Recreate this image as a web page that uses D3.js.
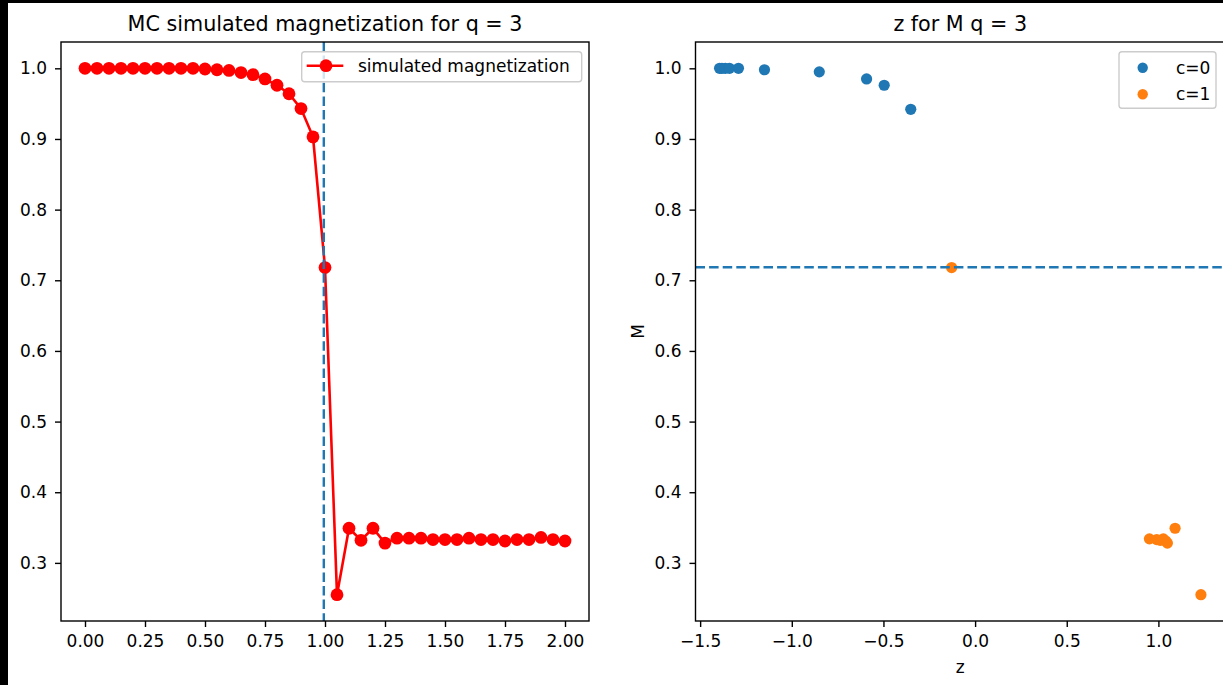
<!DOCTYPE html>
<html>
<head>
<meta charset="utf-8">
<script src="https://cdn.jsdelivr.net/npm/d3@7"></script>
<style>
  html, body { margin: 0; padding: 0; background: #fff; }
  svg { display: block; font-family: "DejaVu Sans", sans-serif; }
</style>
</head>
<body>
<svg id="chart" width="1223" height="685"></svg>
<script>
// ---------- data ----------
const temperatures = d3.range(41).map(i => +(i * 0.05).toFixed(2));
const magnetization = [
  1.000, 1.000, 1.000, 1.000, 1.000, 1.000, 1.000, 1.000, 1.000, 1.000,
  0.999, 0.998, 0.997, 0.994, 0.991, 0.985, 0.976, 0.964, 0.943, 0.903,
  0.718, 0.255, 0.349, 0.332, 0.349, 0.328, 0.335, 0.335, 0.335, 0.333,
  0.333, 0.333, 0.335, 0.333, 0.333, 0.331, 0.333, 0.333, 0.336, 0.333,
  0.331
];
const criticalT = 0.995;
const criticalM = 0.7185;

const c0_z = [-1.394, -1.381, -1.363, -1.340, -1.291, -1.149, -0.850, -0.592, -0.496, -0.351];
const c0_M = [1.000, 1.000, 1.000, 1.000, 1.000, 0.998, 0.995, 0.985, 0.976, 0.942];
const c1_z = [-0.128, 0.951, 0.991, 1.010, 1.027, 1.040, 1.049, 1.091, 1.232];
const c1_M = [0.718, 0.334, 0.333, 0.332, 0.334, 0.331, 0.328, 0.349, 0.255];

const leftXTicks = [0.00, 0.25, 0.50, 0.75, 1.00, 1.25, 1.50, 1.75, 2.00];
const rightXTicks = [-1.5, -1.0, -0.5, 0.0, 0.5, 1.0];
const yTicks = [0.3, 0.4, 0.5, 0.6, 0.7, 0.8, 0.9, 1.0];

const leftTitle = "MC simulated magnetization for q = 3";
const rightTitle = "z for M q = 3";
const legendLeft = "simulated magnetization";
const legendRight = ["c=0", "c=1"];

// ---------- styling ----------
const BLUE = "#1f77b4", ORANGE = "#ff7f0e", RED = "#ff0000";
const TICK_FS = 17, TITLE_FS = 20.7;
const axTop = 42, axBottom = 621;
const R_LINE = 6.4, R_SCAT = 5.6;

const svg = d3.select("#chart");
svg.append("rect").attr("width", 1223).attr("height", 685).attr("fill", "#fff");

function pad(ext) { const r = ext[1] - ext[0]; return [ext[0] - 0.05 * r, ext[1] + 0.05 * r]; }
const yDomain = pad(d3.extent(magnetization.concat(c0_M, c1_M)));

function styleAxis(g) {
  g.selectAll("text").attr("font-size", TICK_FS).attr("fill", "#000").attr("font-family", "DejaVu Sans");
  g.selectAll("line").attr("stroke", "#000").attr("stroke-width", 1.4);
  g.select(".domain").remove();
}

function frame(x0, x1) {
  svg.append("rect").attr("x", x0).attr("y", axTop).attr("width", x1 - x0).attr("height", axBottom - axTop)
    .attr("fill", "none").attr("stroke", "#000").attr("stroke-width", 1.4);
}

// ---------- left panel ----------
{
  const L = 61, R = 589;
  const x = d3.scaleLinear().domain(pad(d3.extent(temperatures))).range([L, R]);
  const y = d3.scaleLinear().domain(yDomain).range([axBottom, axTop]);

  svg.append("g").attr("transform", `translate(0,${axBottom})`)
    .call(d3.axisBottom(x).tickValues(leftXTicks).tickFormat(d3.format(".2f")).tickSize(6).tickPadding(8))
    .call(styleAxis);
  svg.append("g").attr("transform", `translate(${L},0)`)
    .call(d3.axisLeft(y).tickValues(yTicks).tickFormat(d3.format(".1f")).tickSize(6).tickPadding(8))
    .call(styleAxis);

  const pts = temperatures.map((t, i) => [t, magnetization[i]]);
  svg.append("path").datum(pts)
    .attr("d", d3.line().x(d => x(d[0])).y(d => y(d[1])))
    .attr("fill", "none").attr("stroke", RED).attr("stroke-width", 2.6);
  svg.append("g").selectAll("circle").data(pts).join("circle")
    .attr("cx", d => x(d[0])).attr("cy", d => y(d[1])).attr("r", R_LINE).attr("fill", RED);

  svg.append("line").attr("x1", x(criticalT)).attr("x2", x(criticalT)).attr("y1", axTop).attr("y2", axBottom)
    .attr("stroke", BLUE).attr("stroke-width", 2.4).attr("stroke-dasharray", "9.5,4.1");

  // legend
  const lg = svg.append("g");
  lg.append("rect").attr("x", 301.7).attr("y", 51.7).attr("width", 280).attr("height", 30).attr("rx", 3)
    .attr("fill", "#fff").attr("fill-opacity", 0.8).attr("stroke", "#cccccc").attr("stroke-width", 1.4);
  lg.append("line").attr("x1", 306.7).attr("x2", 343.3).attr("y1", 65.7).attr("y2", 65.7)
    .attr("stroke", RED).attr("stroke-width", 2.6);
  lg.append("circle").attr("cx", 326).attr("cy", 65.7).attr("r", R_LINE).attr("fill", RED);
  lg.append("text").attr("x", 358).attr("y", 65.7).attr("dy", "0.36em").attr("font-size", TICK_FS).text(legendLeft);

  svg.append("text").attr("x", (L + R) / 2).attr("y", 31).attr("text-anchor", "middle")
    .attr("font-size", TITLE_FS).text(leftTitle);
  frame(L, R);
}

// ---------- right panel ----------
{
  const L = 695.5, R = 1225;
  const x = d3.scaleLinear().domain(pad(d3.extent(c0_z.concat(c1_z)))).range([L, R]);
  const y = d3.scaleLinear().domain(yDomain).range([axBottom, axTop]);

  svg.append("g").attr("transform", `translate(0,${axBottom})`)
    .call(d3.axisBottom(x).tickValues(rightXTicks).tickFormat(d3.format(".1f")).tickSize(6).tickPadding(8))
    .call(styleAxis);
  svg.append("g").attr("transform", `translate(${L},0)`)
    .call(d3.axisLeft(y).tickValues(yTicks).tickFormat(d3.format(".1f")).tickSize(6).tickPadding(8))
    .call(styleAxis);

  svg.append("g").selectAll("circle").data(c0_z.map((z, i) => [z, c0_M[i]])).join("circle")
    .attr("cx", d => x(d[0])).attr("cy", d => y(d[1])).attr("r", R_SCAT).attr("fill", BLUE);
  svg.append("g").selectAll("circle").data(c1_z.map((z, i) => [z, c1_M[i]])).join("circle")
    .attr("cx", d => x(d[0])).attr("cy", d => y(d[1])).attr("r", R_SCAT).attr("fill", ORANGE);

  svg.append("line").attr("x1", L).attr("x2", R).attr("y1", y(criticalM)).attr("y2", y(criticalM))
    .attr("stroke", BLUE).attr("stroke-width", 2.4).attr("stroke-dasharray", "9.5,4.1");

  const lg = svg.append("g");
  lg.append("rect").attr("x", 1119).attr("y", 51.7).attr("width", 97).attr("height", 56.6).attr("rx", 3)
    .attr("fill", "#fff").attr("fill-opacity", 0.8).attr("stroke", "#cccccc").attr("stroke-width", 1.4);
  [BLUE, ORANGE].forEach((c, i) => {
    const cy = 67.7 + i * 26.6;
    lg.append("circle").attr("cx", 1142.7).attr("cy", cy).attr("r", 5.2).attr("fill", c);
    lg.append("text").attr("x", 1176).attr("y", cy).attr("dy", "0.36em").attr("font-size", TICK_FS).text(legendRight[i]);
  });

  svg.append("text").attr("x", (L + R) / 2).attr("y", 31).attr("text-anchor", "middle")
    .attr("font-size", TITLE_FS).text(rightTitle);
  svg.append("text").attr("x", (L + R) / 2).attr("y", 673).attr("text-anchor", "middle")
    .attr("font-size", TICK_FS).text("z");
  svg.append("text").attr("transform", `translate(644,${(axTop + axBottom) / 2}) rotate(-90)`)
    .attr("text-anchor", "middle").attr("font-size", TICK_FS).text("M");
  frame(L, R);
}

// screenshot border artefacts
svg.append("rect").attr("x", 0).attr("y", 0).attr("width", 8).attr("height", 685).attr("fill", "#000");
svg.append("rect").attr("x", 0).attr("y", 0).attr("width", 1223).attr("height", 3).attr("fill", "#000");
</script>
</body>
</html>
